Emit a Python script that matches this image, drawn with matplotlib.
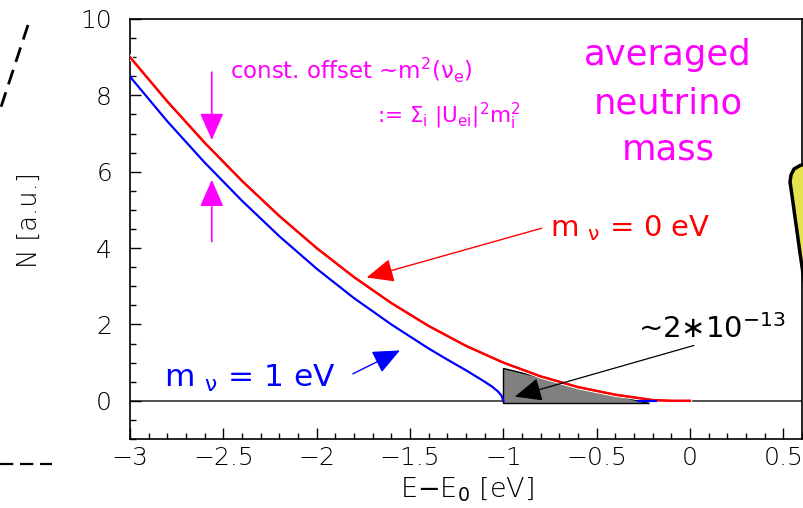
import matplotlib
matplotlib.use("Agg")
import matplotlib.pyplot as plt
from matplotlib.ticker import MultipleLocator
from matplotlib.lines import Line2D
from matplotlib.patches import Polygon
import matplotlib.patheffects as pe

# spectrum near the endpoint
e_red = [-3.0, -2.8, -2.6, -2.4, -2.2, -2.0, -1.8, -1.6, -1.4, -1.2, -1.0,
         -0.8, -0.6, -0.4, -0.3, -0.2, -0.1, 0.0]
n_red = [9.00, 7.84, 6.76, 5.76, 4.84, 4.00, 3.24, 2.56, 1.96, 1.44, 1.00,
         0.64, 0.36, 0.16, 0.09, 0.02, 0.0, 0.0]

e_blue = [-3.0, -2.8, -2.6, -2.4, -2.2, -2.0, -1.8, -1.6, -1.4, -1.3, -1.2,
          -1.15, -1.1, -1.06, -1.03, -1.01, -1.0]
n_blue = [8.49, 7.32, 6.24, 5.24, 4.31, 3.46, 2.69, 2.00, 1.37, 1.08, 0.80,
          0.65, 0.50, 0.37, 0.25, 0.14, 0.0]
e_blue_tail = [-0.28, -0.18]
n_blue_tail = [0.0, 0.0]

# shaded last-eV region
tri_e = [-1.0, -1.0, -0.22]
tri_n = [0.87, -0.06, -0.06]

xticks = [-3, -2.5, -2, -1.5, -1, -0.5, 0, 0.5]
yticks = [0, 2, 4, 6, 8, 10]

W, H = 804, 508
fig = plt.figure(figsize=(W / 100, H / 100), dpi=100)
ax = fig.add_axes([130 / W, (H - 439) / H, 672 / W, 420 / H])
ax.set_xlim(-3, 0.6)
ax.set_ylim(-1, 10)

ax.axhline(0, color='#333333', lw=1.2, zorder=1)
ax.fill(tri_e, tri_n, facecolor='#808080', edgecolor='black', lw=1, zorder=2)
ax.plot(e_red, n_red, color='#ff0000', lw=1.6, zorder=3,
        path_effects=[pe.withStroke(linewidth=3.2, foreground='white'), pe.Normal()])
ax.plot(e_blue, n_blue, color='#0000ff', lw=1.6, zorder=3)
ax.plot(e_blue_tail, n_blue_tail, color='#0000ff', lw=1.6, zorder=3)

ax.set_xticks(xticks)
ax.set_xticklabels(['\u22123', '\u22122.5', '\u22122', '\u22121.5', '\u22121', '\u22120.5', '0', '0.5'])
ax.set_yticks(yticks)
ax.xaxis.set_minor_locator(MultipleLocator(0.1))
ax.yaxis.set_minor_locator(MultipleLocator(0.5))
ax.tick_params(which='both', direction='in', top=False, right=False, width=1)
ax.tick_params(which='major', length=8)
ax.tick_params(which='minor', length=4.3)
ax.tick_params(axis='x', pad=5, labelsize=18)
ax.tick_params(axis='y', pad=13, labelsize=18)
for lab in ax.get_xticklabels() + ax.get_yticklabels():
    lab.set_fontweight('light')
for s in ax.spines.values():
    s.set_linewidth(1.2)

ax.text(-0.149, 0.521, 'N [a.u.]', transform=ax.transAxes, rotation=90,
        ha='center', va='center', fontsize=18.5, fontweight='light')
ax.text(0.5015, -0.121, 'E$-$E$_\\mathrm{0}$ [eV]', transform=ax.transAxes,
        ha='center', va='center', fontsize=19.5, fontweight='light')

# labels and arrows
mag = '#ff00ff'
ax.text(-0.75, 4.30, 'm $_\\mathrm{\u03bd}$ = 0 eV', color='#ff0000', fontsize=21,
        ha='left', va='baseline')
ax.text(-2.82, 0.36, 'm $_\\mathrm{\u03bd}$ = 1 eV', color='#0000ff', fontsize=22.5,
        ha='left', va='baseline')
ax.text(-0.279, 1.65, '~2\u221710$^{-13}$', color='black', fontsize=21,
        ha='left', va='baseline')
ax.text(-2.464, 8.42, 'const. offset ~m$^2$(\u03bd$_\\mathrm{e}$)', color=mag,
        fontsize=16.5, ha='left', va='baseline')
ax.text(-1.677, 7.28, ':= \u03a3$_\\mathrm{i}$ |U$_\\mathrm{ei}$|$^2$m$^2_\\mathrm{i}$',
        color=mag, fontsize=15.5, ha='left', va='baseline')

arr = dict(arrowstyle='-|>,head_length=0.8,head_width=0.35', mutation_scale=21,
           shrinkA=0, shrinkB=0)
ax.annotate('', xy=(-2.562, 6.83), xytext=(-2.562, 8.61),
            arrowprops=dict(arr, color=mag, lw=1.2), zorder=5)
ax.annotate('', xy=(-2.562, 5.79), xytext=(-2.562, 4.17),
            arrowprops=dict(arr, color=mag, lw=1.2), zorder=5)
ax.annotate('', xy=(-1.732, 3.23), xytext=(-0.795, 4.52),
            arrowprops=dict(arr, color='#ff0000', lw=1), zorder=5)
ax.annotate('', xy=(-1.554, 1.32), xytext=(-1.806, 0.707),
            arrowprops=dict(arr, color='#0000ff', lw=1), zorder=5)
ax.annotate('', xy=(-0.938, 0.11), xytext=(0.021, 1.45),
            arrowprops=dict(arr, color='black', lw=0.9), zorder=5)

for txt, y in [('averaged', 65), ('neutrino', 113), ('mass', 160)]:
    fig.text(668 / W, 1 - y / H, txt, color=mag, fontsize=25.5,
             ha='center', va='baseline')

# bits of the neighbouring slide graphics
def px(x, y):
    return x / W, 1 - y / H

fig.add_artist(Line2D([28 / W, 0], [1 - 25 / H, 1 - 110 / H], color='black', lw=2,
                      linestyle=(0, (5.5, 3)), transform=fig.transFigure))
fig.add_artist(Line2D([0, 52 / W], [1 - 464 / H, 1 - 464 / H], color='black', lw=1.6,
                      linestyle=(0, (6, 3)), transform=fig.transFigure))
blob = [(806, 164), (800, 165.5), (794, 169), (791, 175), (790, 182), (791.5, 192),
        (800, 253), (804, 280), (806, 290)]
fig.add_artist(Polygon([px(x, y) for x, y in blob], closed=True, facecolor='#e4e24f',
                       edgecolor='black', lw=2.5, transform=fig.transFigure, zorder=10))

fig.savefig('out.png', dpi=100)
